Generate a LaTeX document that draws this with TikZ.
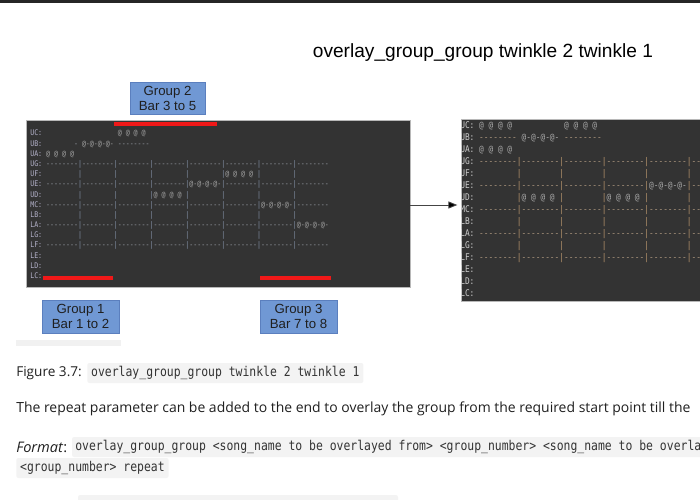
\documentclass[tikz,border=0pt]{standalone}
\usepackage{fontspec}
\usepackage{graphicx}
\setmainfont{Liberation Sans}
\setmonofont[FakeStretch=0.85]{DejaVu Sans Mono}
\newfontfamily\pagefont{Open Sans}
\newfontfamily\codefont[FakeStretch=0.85]{DejaVu Sans Mono}
\usetikzlibrary{arrows.meta,positioning}

% one bar of the text score, 8 columns each
\def\Dsh{--------}
\def\Emp{~~~~~~~~}
\def\Nte{\textcolor{notec}{@~@~@~@~}}
\def\Tie{\textcolor{notec}{@-@-@-@-}}
\def\barsep{\textcolor{barc}{|}}
\newcommand\staffrow[8]{#1\barsep#2\barsep#3\barsep#4\barsep#5\barsep#6\barsep#7\barsep#8}

\begin{document}
\begin{tikzpicture}[
    x=0.025cm, y=-0.025cm,
    title/.style={font=\fontsize{13.6}{16}\selectfont, text=black, inner sep=0, anchor=base},
    groupbox/.style={draw=groupedge, line width=0.4pt, fill=groupfill, align=center,
      inner sep=0, text=ink, font=\fontsize{9.4}{10.7}\selectfont},
    pane/.style={draw=paneedge, line width=0.5pt, fill=panebg, inner sep=0},
    marker/.style={draw=marker, line width=2.2pt},
    lrow/.style={font=\ttfamily\fontsize{5.53}{6}\selectfont, text=leftbody, inner sep=0, anchor=base west},
    rrow/.style={font=\ttfamily\fontsize{6.56}{7}\selectfont, text=rightbody, inner sep=0, anchor=base west},
    flow/.style={draw=arrowink, line width=0.6pt, -{Triangle[length=6.4pt,width=5pt,fill=black]}},
    pagetext/.style={font=\pagefont\fontsize{10}{12}\selectfont, text=ink, inner sep=0, anchor=west},
    codetext/.style={font=\codefont\fontsize{9.56}{11}\selectfont, text=codeink, inner sep=0, anchor=west},
    codechip/.style={codetext, fill=chip, rounded corners=1.5pt, inner xsep=2.8pt, inner ysep=0pt,
      minimum height=20*0.025cm}
]
\definecolor{ink}{HTML}{1F1F1F}
\definecolor{codeink}{HTML}{333333}
\definecolor{chip}{HTML}{F3F3F3}
\definecolor{smudge}{HTML}{F1F1F1}
\definecolor{topbar}{HTML}{262626}
\definecolor{groupfill}{HTML}{7098D4}
\definecolor{groupedge}{HTML}{5B7FBE}
\definecolor{panebg}{HTML}{333333}
\definecolor{paneedge}{HTML}{B8B8B8}
\definecolor{marker}{HTML}{F01818}
\definecolor{arrowink}{HTML}{444444}
\definecolor{leftlab}{HTML}{B4B2CA}
\definecolor{leftbody}{HTML}{989DA5}
\definecolor{leftbar}{HTML}{8795AC}
\definecolor{rightlab}{HTML}{CFCFCF}
\definecolor{rightbody}{HTML}{A8937C}
\definecolor{rightbar}{HTML}{BA966E}
\definecolor{notec}{HTML}{A6A6A6}

\def\px{0.025cm}

\useasboundingbox (0,0) rectangle (700,500);
\clip (0,0) rectangle (700,500);
\fill[topbar] (0,0) rectangle (700,3.5);

% figure: title and group 2 label
\node[title] (title) at (483,57) {overlay\_group\_group twinkle 2 twinkle 1};
\node[groupbox, minimum width=75*\px, minimum height=32*\px] (grouptwo) at (167.5,98) {Group 2\\Bar 3 to 5};

% left screenshot, the song before the overlay
\node[pane, minimum width=384*\px, minimum height=167*\px] (leftpane) at (218,203.5) {};
\begin{scope}
  \colorlet{barc}{leftbar}
  \foreach \lab/\body [count=\i from 0] in {
      UC/{\Emp~\Emp~\Nte},
      UB/{~~~~~~~-~\Tie~\Dsh},
      UA/{\Nte},
      UG/{\staffrow\Dsh\Dsh\Dsh\Dsh\Dsh\Dsh\Dsh\Dsh},
      UF/{\staffrow\Emp\Emp\Emp\Emp\Emp\Nte\Emp\Emp},
      UE/{\staffrow\Dsh\Dsh\Dsh\Dsh\Tie\Dsh\Dsh\Dsh},
      UD/{\staffrow\Emp\Emp\Emp\Nte\Emp\Emp\Emp\Emp},
      MC/{\staffrow\Dsh\Dsh\Dsh\Dsh\Dsh\Dsh\Tie\Dsh},
      LB/{\staffrow\Emp\Emp\Emp\Emp\Emp\Emp\Emp\Emp},
      LA/{\staffrow\Dsh\Dsh\Dsh\Dsh\Dsh\Dsh\Dsh\Tie},
      LG/{\staffrow\Emp\Emp\Emp\Emp\Emp\Emp\Emp\Emp},
      LF/{\staffrow\Dsh\Dsh\Dsh\Dsh\Dsh\Dsh\Dsh\Dsh},
      LE/{}, LD/{}, LC/{}} {
    \node[lrow] (L\i) at (30,135.9+10.19*\i) {\textcolor{leftlab}{\lab:}~\body};
  }
\end{scope}

% red marks for the three groups
\draw[marker] (114,124) -- (217,124);
\draw[marker] (43,278) -- (113,278);
\draw[marker] (260,278) -- (331,278);

% right screenshot, after the overlay
\node[pane, minimum width=280*\px, minimum height=182*\px] (rightpane) at (601.7,210) {};
\draw[flow, shorten >=4*\px] (leftpane.east |- 0,205) -- (rightpane.west |- 0,205);
\begin{scope}
  \colorlet{barc}{rightbar}
  \clip (461.7,119.5) rectangle (700,300.5);
  \foreach \lab/\body [count=\i from 0] in {
      UC/{\Nte~\Emp~\Nte},
      UB/{\Dsh~\Tie~\Dsh},
      UA/{\Nte},
      UG/{\staffrow\Dsh\Dsh\Dsh\Dsh\Dsh\Dsh\Dsh\Dsh},
      UF/{\staffrow\Emp\Emp\Emp\Emp\Emp\Emp\Emp\Nte},
      UE/{\staffrow\Dsh\Dsh\Dsh\Dsh\Tie\Dsh\Dsh\Dsh},
      UD/{\staffrow\Emp\Nte\Emp\Nte\Emp\Emp\Emp\Emp},
      MC/{\staffrow\Dsh\Dsh\Dsh\Dsh\Dsh\Dsh\Dsh\Dsh},
      LB/{\staffrow\Emp\Emp\Emp\Emp\Emp\Emp\Emp\Emp},
      LA/{\staffrow\Dsh\Dsh\Dsh\Dsh\Dsh\Dsh\Dsh\Dsh},
      LG/{\staffrow\Emp\Emp\Emp\Emp\Emp\Emp\Emp\Emp},
      LF/{\staffrow\Dsh\Dsh\Dsh\Dsh\Dsh\Dsh\Dsh\Dsh},
      LE/{}, LD/{}, LC/{}} {
    \node[rrow] (R\i) at (460,128.4+11.98*\i) {\textcolor{rightlab}{\lab:}~\body};
  }
\end{scope}

% group 1 and group 3 labels
\node[groupbox, minimum width=77*\px, minimum height=33*\px] (groupone) at (80.5,316.5) {Group 1\\Bar 1 to 2};
\node[groupbox, minimum width=77*\px, minimum height=33*\px] (groupthree) at (298.5,316.5) {Group 3\\Bar 7 to 8};
\fill[smudge] (16,340) rectangle (121,346);

% page text below the figure
\node[pagetext] (figlabel) at (16,373) {\resizebox{1.6375cm}{!}{Figure 3.7:}};
\node[codechip] (figcode) at (87,373) {overlay\_group\_group twinkle 2 twinkle 1};
\node[pagetext] (para) at (16,409)
  {\resizebox{16.85cm}{!}{The repeat parameter can be added to the end to overlay the group from the required start point till the}};
\node[pagetext] (fmtlabel) at (16,447) {\resizebox{1.275cm}{!}{\textit{Format}:}};
\fill[chip, rounded corners=1.5pt] (72,437) rectangle (710,457);
\node[codetext] (fmtcode) at (75,447)
  {overlay\_group\_group~<song\_name~to~be~overlayed~from>~<group\_number>~<song\_name~to~be~overla};
\node[codechip] (fmtrepeat) at (16,468) {<group\_number> repeat};
\fill[chip, rounded corners=1.5pt] (78,495) rectangle (398,510);
\end{tikzpicture}
\end{document}
